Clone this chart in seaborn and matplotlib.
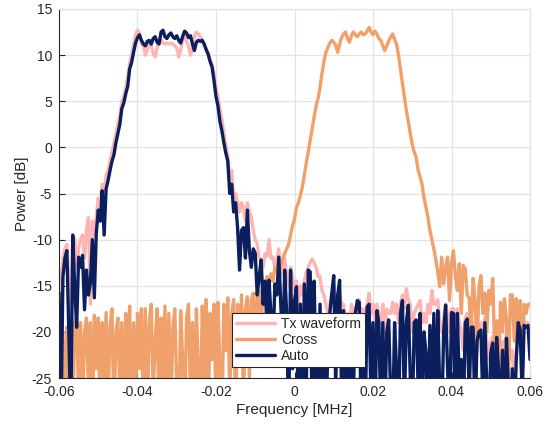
import numpy as np
import pandas as pd
import matplotlib
matplotlib.use("Agg")
import matplotlib.pyplot as plt
import seaborn as sns

# Frequency grid (MHz), step 0.0005 from -0.06 to 0.06
freq = np.round(np.arange(-0.06, 0.06 + 1e-9, 0.0005), 4)

tx_waveform = [
    -13, -18, -12, -11, -10.5, -14, -20, -9.8, -9.9, -13,
    -11, -10, -9.5, -12, -9, -7.6, -17, -8, -9.5, -7.5,
    -5.5, -6, -4, -5, -3, -2.5, -1.5, -0.5, 0.5, 1.5,
    2.5, 3.5, 5, 5.5, 6.5, 7.5, 9.2, 10, 11.2, 12.2,
    12.7, 12.4, 11.2, 11.0, 10.0, 10.5, 11.5, 11.0, 10.2, 9.8,
    10.8, 11.5, 11.6, 11.3, 11.2, 11.3, 11.2, 11.3, 11.2, 11.0,
    10.8, 9.8, 10.5, 11.8, 12.0, 11.5, 11.0, 10.0, 10.6, 12.0,
    12.5, 12.3, 12.0, 11.6, 11.0, 10.6, 10.2, 9.5, 9.0, 8.0,
    6.5, 5.5, 4.2, 3, 1.5, 0.2, -1, -3, -2.5, -5.5,
    -5, -6, -7, -6, -6.5, -8, -6, -7, -7.6, -9,
    -10, -10.5, -12, -12.2, -13, -11.5, -11.8, -10, -12, -11.9,
    -13, -12, -11, -14, -13, -12, -14, -15, -13, -14,
    -15.5, -14.5, -17, -15, -16, -14.5, -13.5, -13, -12.5, -12.1,
    -12.5, -13, -14, -14, -15.5, -16, -17, -18, -17, -16,
    -15, -17, -16, -16, -17, -17, -19, -18, -19.5, -17,
    -18, -17.5, -17, -16.5, -19, -17.5, -20, -17, -15.8, -18,
    -17, -19, -17, -18, -19, -17, -20, -17.5, -18, -18,
    -16.8, -18, -17, -19, -17, -16, -17.5, -15.3, -16.5, -17,
    -20, -18, -17.5, -17, -16.6, -19, -18, -19, -17, -18,
    -15.5, -17, -17, -16.5, -19, -20, -18.5, -17, -18, -20,
    -17.5, -17.5, -21, -17.5, -19, -20, -22, -18.5, -18, -19.5,
    -19, -19, -21, -20, -19.5, -19, -20, -18.5, -21, -23,
    -21, -20.5, -21, -20, -22, -25.5, -21, -22, -20, -20.5,
    -23, -22, -26, -22, -18.5, -19, -20.5, -19, -19, -19,
    -21,
]

cross = [
    -21, -30, -20, -30, -19.5, -26, -22, -30, -19, -18.5,
    -27, -19, -30, -20, -18.5, -26, -19, -30, -18.2, -24,
    -18.5, -30, -19, -26, -17.9, -28, -19.5, -17.5, -30, -20,
    -18.5, -27, -19, -30, -18, -25, -17.2, -30, -19, -28,
    -18, -24, -17.5, -30, -17.5, -30, -19, -17, -27, -21,
    -17.5, -30, -18.5, -25, -17.2, -28, -18, -30, -19.5, -17.5,
    -26, -30, -17.7, -23, -30, -18.5, -17, -27, -19, -30,
    -17.5, -24, -30, -17.2, -25, -16.5, -30, -18, -23, -17,
    -28, -16.8, -24, -30, -17, -22, -16.3, -27, -18, -16.5,
    -30, -17, -23, -16, -28, -17.5, -16.2, -25, -16.5, -15.8,
    -22, -16, -15.5, -20, -15, -17, -14, -15, -13.7, -14.5,
    -13, -13.5, -12.5, -13, -12, -11.5, -11, -10.5, -9.5, -8.5,
    -7.8, -6.5, -6, -5.2, -4.3, -3, -1.7, -0.5, 0.8, 2,
    3.3, 4.5, 5.3, 6.5, 8, 9.3, 10.3, 10.8, 11.3, 11.6,
    11.4, 11.1, 10.3, 11.2, 11.9, 12.3, 12.5, 11.8, 11.4, 12.1,
    12.5, 12.2, 12.0, 12.3, 12.5, 12.2, 12.3, 12.6, 13.0, 12.5,
    12.2, 12.6, 12.3, 11.8, 11.6, 11.0, 10.5, 11.0, 11.5, 12.0,
    12.3, 11.7, 11.2, 10.0, 8.5, 6.9, 5.5, 4.0, 2.8, 1.5,
    0.3, -0.5, -1.1, -2.5, -3.2, -4, -5.5, -6.5, -7.6, -9,
    -10, -11, -12.2, -13.5, -15.1, -11.9, -14.8, -13, -11.9, -16.6,
    -12.5, -11.2, -14, -15.5, -12.6, -18, -12.8, -13.2, -16, -16.3,
    -20, -14.2, -16.6, -22, -15.1, -13.9, -18, -15.8, -20, -15.5,
    -17, -14.2, -22, -18.8, -24, -16.8, -20, -16.4, -18.8, -25.5,
    -16, -16, -21, -16.4, -19, -16.6, -25.5, -17, -18, -17,
    -17,
]

auto = [
    -15.8, -30, -14, -12, -11.2, -20, -30, -9.5, -15, -19.5,
    -11.9, -13, -11.7, -17.6, -13.3, -16, -14.7, -10, -16.3, -9.3,
    -6.8, -8, -4.7, -9.5, -4.5, -3.6, -2.5, -1.5, -0.8, 0.5,
    1.5, 2.5, 4.2, 4.8, 5.8, 6.6, 8.5, 9.2, 10.3, 11.3,
    11.9, 12.2, 11.6, 11.2, 11.0, 11.5, 11.6, 11.2, 11.8, 12.0,
    11.4, 11.2, 12.5, 12.7, 12.0, 11.8, 12.2, 12.4, 12.0, 11.8,
    12.1, 11.6, 11.3, 12.0, 12.6, 12.4, 11.9, 12.1, 11.2, 10.5,
    11.4, 11.6, 11.5, 11.6, 11.2, 10.6, 10.1, 9.3, 8.7, 7.2,
    5.5, 4.5, 2.8, 1.8, 0.5, -0.6, -1.5, -5, -4, -7,
    -6, -8.7, -13.3, -9, -8.7, -12, -6.8, -11.2, -13, -11,
    -11.5, -16, -14, -12.2, -17, -14.5, -20, -14.4, -18, -22,
    -14.8, -16, -11.9, -17, -22, -13.3, -18, -30, -13.3, -24,
    -16.6, -15.1, -30, -17, -30, -14.8, -26, -13.3, -13.5, -30,
    -14.5, -25, -30, -17, -28, -19, -30, -22, -18, -15.8,
    -13.9, -26, -16, -14.4, -27, -17.7, -30, -19, -30, -19,
    -27, -18, -16.6, -16.8, -30, -19, -30, -17.3, -17, -28,
    -19, -30, -17.7, -19, -30, -19, -30, -20, -18.7, -27,
    -30, -19, -24, -30, -18, -16.6, -28, -19, -17.1, -25,
    -30, -19, -18.7, -26, -18, -30, -20, -22.3, -30, -19.3,
    -27, -18, -30, -17.7, -26, -30, -20, -17.1, -24, -30,
    -17.9, -18, -30, -18, -26, -23, -30, -19, -18.6, -27,
    -19.5, -19.5, -30, -21, -20, -19.8, -28, -19, -26, -30,
    -22.3, -21.2, -30, -20.6, -24.2, -30, -22, -30, -20.7, -26,
    -30, -24, -30, -23, -19, -19.8, -27, -19.3, -19.5, -19.3,
    -23,
]

x_ticks = [-0.06, -0.04, -0.02, 0, 0.02, 0.04, 0.06]
x_tick_labels = ["-0.06", "-0.04", "-0.02", "0", "0.02", "0.04", "0.06"]
y_ticks = [-25, -20, -15, -10, -5, 0, 5, 10, 15]
y_tick_labels = ["-25", "-20", "-15", "-10", "-5", "0", "5", "10", "15"]

series_names = ["Tx waveform", "Cross", "Auto"]
colors = ["#ffb4b4", "#f0a06a", "#0b1f5e"]

df = pd.concat([
    pd.DataFrame({"Frequency": freq, "Power": tx_waveform, "Series": series_names[0]}),
    pd.DataFrame({"Frequency": freq, "Power": cross, "Series": series_names[1]}),
    pd.DataFrame({"Frequency": freq, "Power": auto, "Series": series_names[2]}),
], ignore_index=True)

sns.set_theme(style="white")
plt.rcParams["font.family"] = ["Liberation Sans", "DejaVu Sans"]

fig = plt.figure(figsize=(5.54, 4.30), dpi=100)
ax = fig.add_axes([59 / 554, 1 - 378 / 430, 471 / 554, 369 / 430])

sns.lineplot(data=df, x="Frequency", y="Power", hue="Series",
             hue_order=series_names, palette=colors, linewidth=2.4,
             estimator=None, sort=False, ax=ax)

ax.set_xlim(-0.06, 0.06)
ax.set_ylim(-25, 15)
ax.set_xticks(x_ticks)
ax.set_xticklabels(x_tick_labels)
ax.set_yticks(y_ticks)
ax.set_yticklabels(y_tick_labels)
ax.grid(True, color="#e3e3e3", linewidth=0.9)
ax.set_axisbelow(True)
for side in ["left", "bottom"]:
    ax.spines[side].set_color("#262626")
    ax.spines[side].set_linewidth(0.8)
for side in ["top", "right"]:
    ax.spines[side].set_color("#e3e3e3")
    ax.spines[side].set_linewidth(0.9)
ax.tick_params(axis="both", direction="in", length=4, width=0.8,
               colors="#262626", labelsize=10, pad=5,
               left=True, bottom=True)
ax.set_xlabel("Frequency [MHz]", fontsize=11, color="#262626", labelpad=3)
ax.set_ylabel("Power [dB]", fontsize=11, color="#262626", labelpad=2)

leg = ax.legend(loc="lower left", bbox_to_anchor=((232 - 59) / 471, (378 - 367) / 369),
                borderaxespad=0, frameon=True, fancybox=False, fontsize=10,
                handlelength=2.8, handletextpad=0.45, labelspacing=0.15,
                borderpad=0.3, framealpha=1.0)
leg.get_frame().set_edgecolor("#262626")
leg.get_frame().set_facecolor("white")
leg.get_frame().set_linewidth(0.8)
for line in leg.get_lines():
    line.set_linewidth(2.4)

fig.savefig("out.png", dpi=100)
